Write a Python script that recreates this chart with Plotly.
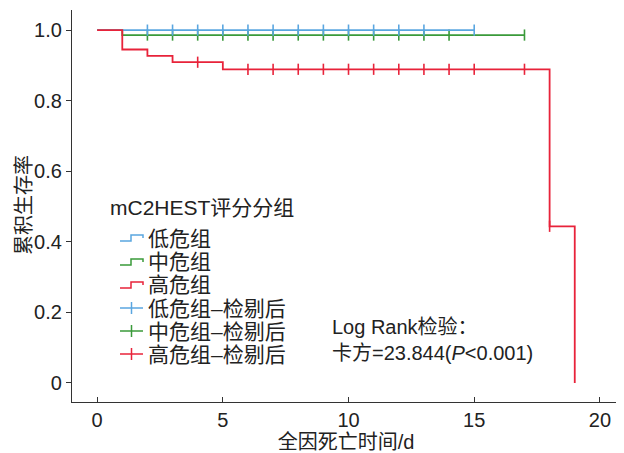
import plotly.graph_objects as go

# ---- data ----
low_t = [0, 15]
low_s = [1.0, 1.0]
low_cens = [2, 3, 4, 5, 6, 7, 8, 9, 10, 11, 12, 13, 15]

mid_t = [0, 1, 17]
mid_s = [1.0, 0.986, 0.986]
mid_cens = [2, 3, 4, 5, 6, 7, 8, 9, 10, 11, 12, 13, 14, 17]

high_t = [0, 1, 2, 3, 5, 18, 19]
high_s = [1.0, 0.945, 0.927, 0.909, 0.889, 0.444, 0.0]
high_cens = [4, 6, 7, 8, 9, 10, 11, 12, 13, 14, 15, 17, 18]

group_names = ["低危组", "中危组", "高危组"]
colors = ["#5aa6e0", "#3a9a3a", "#e8233a"]

y_ticks = [0, 0.2, 0.4, 0.6, 0.8, 1.0]
y_ticktext = ["0", "0.2", "0.4", "0.6", "0.8", "1.0"]
x_ticks = [0, 5, 10, 15, 20]

FONT = "Liberation Sans, Arial, Noto Sans CJK SC, sans-serif"
TXT = "#222222"
FS = 20
FS_T = 21


def step_at(ts, ss, t):
    v = ss[0]
    for ti, si in zip(ts, ss):
        if ti <= t:
            v = si
    return v


fig = go.Figure()
series = [(mid_t, mid_s, mid_cens, colors[1]),
          (low_t, low_s, low_cens, colors[0]),
          (high_t, high_s, high_cens, colors[2])]
for ts, ss, cens, c in series:
    fig.add_trace(go.Scatter(x=ts, y=ss, mode="lines", line=dict(shape="hv", color=c, width=1.8),
                             showlegend=False, hoverinfo="skip"))
    fig.add_trace(go.Scatter(x=cens, y=[step_at(ts, ss, t) for t in cens], mode="markers",
                             marker=dict(symbol="line-ns", size=8, line=dict(color=c, width=1.6)),
                             showlegend=False, hoverinfo="skip"))

# ---- layout geometry (page has an 8px body margin) ----
OFF = 8
W, H = 624 - OFF, 453 - OFF
L, R, T, B = 64, 4, 2, 51
pw, ph = W - L - R, H - T - B


def px(x):
    return (x - OFF - L) / pw


def py(y):
    return (H - B - (y - OFF)) / ph


annotations = [dict(text="mC2HEST评分分组", x=px(108), y=py(208), xref="paper", yref="paper",
                    xanchor="left", yanchor="middle", showarrow=False,
                    font=dict(family=FONT, size=FS_T, color=TXT))]
shapes = []
row_y = [238, 262, 285, 308, 331, 354]
labels = group_names + [g + "–检剔后" for g in group_names]
for i, (lab, yy) in enumerate(zip(labels, row_y)):
    c = colors[i % 3]
    x0, x1 = 120, 143
    if i < 3:
        xm = 131
        path = (f"M {px(x0)} {py(yy+3)} L {px(xm)} {py(yy+3)} L {px(xm)} {py(yy-3)} "
                f"L {px(x1)} {py(yy-3)} L {px(x1)} {py(yy)}")
        shapes.append(dict(type="path", path=path, xref="paper", yref="paper",
                           line=dict(color=c, width=1.5)))
    else:
        shapes.append(dict(type="line", x0=px(x0), x1=px(x1), y0=py(yy), y1=py(yy),
                           xref="paper", yref="paper", line=dict(color=c, width=1.5)))
        shapes.append(dict(type="line", x0=px(131.5), x1=px(131.5), y0=py(yy - 6), y1=py(yy + 6),
                           xref="paper", yref="paper", line=dict(color=c, width=1.5)))
    annotations.append(dict(text=lab, x=px(146), y=py(yy), xref="paper", yref="paper",
                            xanchor="left", yanchor="middle", showarrow=False,
                            font=dict(family=FONT, size=FS_T, color=TXT)))

annotations.append(dict(text="Log Rank检验：<br>卡方=23.844(<i>P</i><0.001)", x=px(330), y=py(340),
                        xref="paper", yref="paper", xanchor="left", yanchor="middle",
                        align="left", showarrow=False,
                        font=dict(family=FONT, size=FS, color=TXT)))

# y-axis title as rotated annotation
annotations.append(dict(text="累积生存率", x=px(24), y=py(205), xref="paper", yref="paper",
                        xanchor="center", yanchor="middle", textangle=-90, showarrow=False,
                        font=dict(family=FONT, size=FS, color=TXT)))

fig.update_layout(
    width=W, height=H,
    margin=dict(l=L, r=R, t=T, b=B),
    plot_bgcolor="white", paper_bgcolor="white",
    font=dict(family=FONT, size=FS, color=TXT),
    annotations=annotations, shapes=shapes,
    showlegend=False,
)
fig.update_xaxes(range=[-1, 20.8], tickvals=x_ticks, ticks="inside", ticklen=5, tickcolor="#333",
                 showline=True, linecolor="#333", linewidth=1.3, showgrid=False, zeroline=False,
                 automargin=False, tickfont=dict(size=FS, color=TXT),
                 title=dict(text="全因死亡时间/d", font=dict(size=FS, color=TXT), standoff=0))
fig.update_yaxes(range=[-0.054, 1.057], tickvals=y_ticks, ticktext=y_ticktext, ticks="outside",
                 ticklen=5, tickcolor="#333",
                 showline=True, linecolor="#333", linewidth=1.3, showgrid=False, zeroline=False,
                 automargin=False, tickfont=dict(size=FS, color=TXT))

fig.write_html("out.html")
